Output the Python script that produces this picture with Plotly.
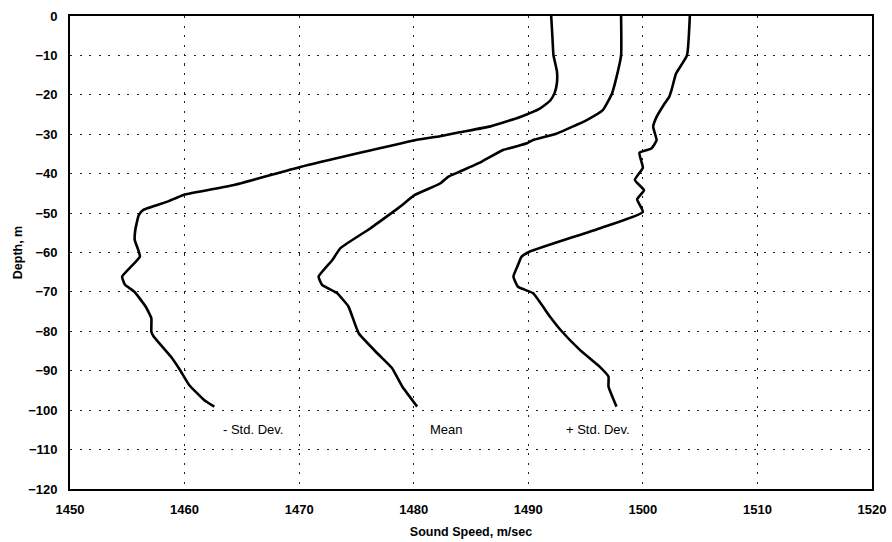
import plotly.graph_objects as go

# Sound speed profiles: depth (m) and speed (m/sec)
minus_depth = [0, -5, -10, -14, -17, -19.5, -21.5, -23.5, -25.6, -28, -29.5, -30.5,
               -31.5, -38.3, -42.9, -45.4, -47.1, -49.2, -50.5, -54.3, -56.8, -61.0,
               -66.1, -68.2, -69.9, -73.7, -76.7, -80.1, -81.3, -86.4, -89.8, -93.6,
               -97.4, -99.1]
minus_speed = [1492.0, 1492.1, 1492.2, 1492.5, 1492.5, 1492.3, 1491.9, 1491.0, 1489.3,
               1486.7, 1484.0, 1482.3, 1480.1, 1470.1, 1464.3, 1459.9, 1458.5, 1456.4,
               1456.0, 1455.7, 1455.65, 1456.1, 1454.55, 1454.8, 1455.6, 1456.6, 1457.1,
               1457.1, 1457.3, 1458.8, 1459.6, 1460.4, 1461.7, 1462.6]

mean_depth = [0, -10, -15.5, -19.7, -23.9, -26.4, -29.8, -31.5, -32.3, -34.0, -37.0,
              -39.5, -40.8, -42.5, -45.4, -48.4, -49.7, -53.9, -58.9, -61.9, -66.1,
              -68.2, -70.3, -73.7, -80.5, -85.5, -89.3, -94.0, -99.1]
mean_speed = [1498.1, 1498.1, 1497.7, 1497.3, 1496.5, 1495.1, 1492.5, 1490.4, 1489.9,
              1487.8, 1485.9, 1484.0, 1483.0, 1482.3, 1480.1, 1478.8, 1478.2, 1476.2,
              1473.6, 1472.9, 1471.7, 1472.0, 1473.3, 1474.3, 1475.2, 1476.8, 1478.1,
              1479.0, 1480.3]

plus_depth = [0, -10, -14.6, -18.8, -20.5, -22.2, -25.6, -28.1, -31.5, -33.6, -34.7,
              -38.5, -41.6, -44.2, -46.5, -49.7, -53.9, -59.8, -61.1, -63.2, -66.1,
              -68.7, -70.3, -76.3, -79.6, -84.7, -88.9, -91.5, -94.0, -99.1]
plus_speed = [1504.1, 1503.85, 1502.9, 1502.5, 1502.3, 1501.9, 1501.2, 1500.9, 1501.2,
              1500.75, 1499.7, 1500.0, 1499.3, 1500.1, 1499.5, 1500.0, 1496.2, 1490.1,
              1489.4, 1489.1, 1488.7, 1489.1, 1490.4, 1491.9, 1492.8, 1494.5, 1496.2,
              1497.0, 1497.0, 1497.7]

curve_labels = ["- Std. Dev.", "Mean", "+ Std. Dev."]
label_speed = [1466.0, 1482.9, 1496.1]
label_depth = [-105, -105, -105]

x_ticks = [1450, 1460, 1470, 1480, 1490, 1500, 1510, 1520]
y_ticks = [0, -10, -20, -30, -40, -50, -60, -70, -80, -90, -100, -110, -120]

FONT = "Liberation Sans, Arial, sans-serif"

fig = go.Figure()
for xs, ys in [(minus_speed, minus_depth), (mean_speed, mean_depth), (plus_speed, plus_depth)]:
    fig.add_trace(go.Scatter(x=xs, y=ys, mode="lines",
                             line=dict(color="#000000", width=2.6, shape="spline", smoothing=0.4),
                             showlegend=False, hoverinfo="skip"))

for text, xv, yv in zip(curve_labels, label_speed, label_depth):
    fig.add_annotation(x=xv, y=yv, text=text, showarrow=False,
                       font=dict(family=FONT, size=13, color="#000000"))

axis_common = dict(
    showline=True, linecolor="#000000", linewidth=1.8, mirror=True,
    showgrid=True, gridcolor="#222222", gridwidth=1, griddash="2px,7.5px",
    zeroline=False, ticks="", automargin=False,
    tickfont=dict(family=FONT, size=13, color="#000000", weight="bold"),
)

fig.update_xaxes(range=[1450, 1520], tickvals=x_ticks, ticklabelstandoff=7,
                 title=dict(text="<b>Sound Speed, m/sec</b>", standoff=12,
                            font=dict(family=FONT, size=12.5, color="#000000")),
                 **axis_common)
fig.update_yaxes(range=[-120, 0], tickvals=y_ticks, ticklabelstandoff=8,
                 title=dict(text="<b>Depth, m</b>", standoff=3,
                            font=dict(family=FONT, size=12.5, color="#000000")),
                 **axis_common)

fig.update_layout(
    width=892, height=542,
    margin=dict(l=70, r=20, t=16, b=53, pad=0),
    paper_bgcolor="#ffffff", plot_bgcolor="#ffffff",
)

fig.write_html("out.html")
